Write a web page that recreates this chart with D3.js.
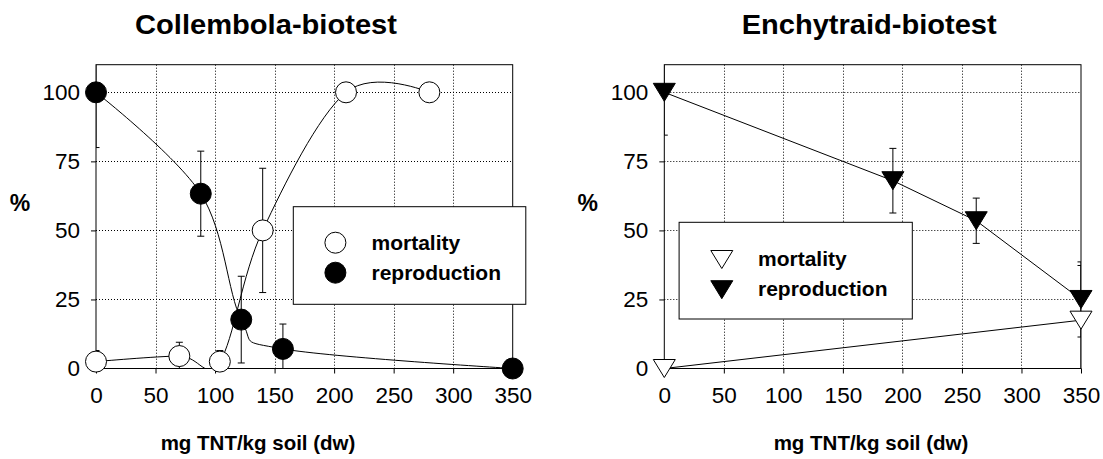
<!DOCTYPE html>
<html><head><meta charset="utf-8">
<script src="https://cdn.jsdelivr.net/npm/d3@7"></script>
<style>
html,body{margin:0;padding:0;background:#fff;}
svg{display:block;font-family:"Liberation Sans",Arial,sans-serif;}
</style></head>
<body>
<svg id="chart" width="1103" height="459"></svg>
<script>
// ---- data ----
const xTicks = [0, 50, 100, 150, 200, 250, 300, 350];
const yTicks = [0, 25, 50, 75, 100];

const colMortX = [0, 70, 104, 140, 210, 280];
const colMortY = [2.5, 4.5, 2.5, 50, 100, 100];
const colMortErr = [4, 5, 4, 22.5, 0, 0];

const colRepX = [0, 88, 122, 157, 350];
const colRepY = [100, 63.3, 17.7, 7.1, 0];
const colRepErr = [20, 15.4, 15.7, 9, 0];

const encMortX = [0, 350];
const encMortY = [0, 17.5];
const encMortErr = [0, 19.8];

const encRepX = [0, 192, 262, 350];
const encRepY = [100, 68, 53.5, 25];
const encRepErr = [15.5, 11.7, 8.2, 13.6];

const titles = ["Collembola-biotest", "Enchytraid-biotest"];
const xLabel = "mg TNT/kg soil (dw)";
const yLabel = "%";
const legendLabels = ["mortality", "reproduction"];

// ---- drawing ----
const svg = d3.select("#chart");
const FONT = '"Liberation Sans",Arial,sans-serif';

function zip(xs, ys, es) { return xs.map((x, i) => ({x, y: ys[i], e: es[i]})); }

const panels = [
  {
    id: "p0", x0: 96, x1: 512.7, title: titles[0], titleX: 266, titleLen: 262, titleY: 34.3,
    labelX: 258, pctX: 20,
    series: [
      {data: zip(colMortX, colMortY, colMortErr), marker: "circle", fill: "#fff", curve: d3.curveCardinal.tension(0)},
      {data: zip(colRepX, colRepY, colRepErr), marker: "circle", fill: "#000", curve: d3.curveCardinal.tension(0)}
    ],
    legend: {x: 293.3, y: 206.7, w: 232.5, h: 97.6, mx: 335.4, tx: 371.5, my: [242.7, 272.7], dy: 7}
  },
  {
    id: "p1", x0: 664.3, x1: 1081, title: titles[1], titleX: 869.2, titleLen: 255, titleY: 33.6,
    labelX: 871, pctX: 587.7,
    series: [
      {data: zip(encMortX, encMortY, encMortErr), marker: "tri", fill: "#fff", curve: d3.curveLinear},
      {data: zip(encRepX, encRepY, encRepErr), marker: "tri", fill: "#000", curve: d3.curveLinear}
    ],
    legend: {x: 679.1, y: 222.3, w: 233.2, h: 96.7, mx: 721.8, tx: 758, my: [259.5, 289.7], dy: 6.5}
  }
];

const yTop = 64.7, yBot = 368.5;
const triPath = "M-11,-9L11,-9L0,9Z";

function drawMarker(g, type, fill, cx, cy) {
  if (type === "circle") {
    g.append("circle").attr("cx", cx).attr("cy", cy).attr("r", 10.5)
      .attr("fill", fill).attr("stroke", "#000").attr("stroke-width", 1);
  } else {
    g.append("path").attr("d", triPath).attr("transform", `translate(${cx},${cy})`)
      .attr("fill", fill).attr("stroke", "#000").attr("stroke-width", 1);
  }
}

panels.forEach(p => {
  const x = d3.scaleLinear().domain([0, 350]).range([p.x0, p.x1]);
  const y = d3.scaleLinear().domain([0, 110]).range([yBot, yTop]);
  const g = svg.append("g");

  // clip
  svg.append("clipPath").attr("id", "clip-" + p.id)
    .append("rect").attr("x", p.x0).attr("y", yTop).attr("width", p.x1 - p.x0).attr("height", yBot - yTop);

  // grid
  const grid = g.append("g").attr("stroke", "#000").attr("stroke-width", 1).attr("stroke-dasharray", "1,2");
  xTicks.filter(t => t > 0 && t < 350).forEach(t => {
    grid.append("line").attr("x1", Math.round(x(t)) + 0.5).attr("x2", Math.round(x(t)) + 0.5)
      .attr("y1", yTop).attr("y2", yBot);
  });
  yTicks.filter(t => t > 0).forEach(t => {
    grid.append("line").attr("y1", Math.round(y(t)) + 0.5).attr("y2", Math.round(y(t)) + 0.5)
      .attr("x1", p.x0).attr("x2", p.x1);
  });

  // frame
  g.append("rect").attr("x", p.x0).attr("y", yTop).attr("width", p.x1 - p.x0).attr("height", yBot - yTop)
    .attr("fill", "none").attr("stroke", "#000").attr("stroke-width", 1);

  // axes
  const ax = g.append("g").attr("transform", `translate(0,${yBot})`)
    .call(d3.axisBottom(x).tickValues(xTicks).tickSize(5).tickSizeOuter(0).tickPadding(14));
  const ay = g.append("g").attr("transform", `translate(${p.x0},0)`)
    .call(d3.axisLeft(y).tickValues(yTicks).tickSize(5).tickSizeOuter(0).tickPadding(11));
  [ax, ay].forEach(a => {
    a.select(".domain").remove();
    a.selectAll("text").attr("font-size", 22.5).attr("font-family", FONT).attr("fill", "#000");
    a.selectAll("line").attr("stroke", "#000");
  });

  // lines
  const line = d3.line().x(d => x(d.x)).y(d => y(d.y));
  const lines = g.append("g").attr("clip-path", `url(#clip-${p.id})`);
  p.series.forEach(s => {
    lines.append("path").attr("d", line.curve(s.curve)(s.data))
      .attr("fill", "none").attr("stroke", "#000").attr("stroke-width", 1);
  });

  // error bars
  const eb = g.append("g").attr("clip-path", `url(#clip-${p.id})`).attr("stroke", "#000").attr("stroke-width", 1);
  p.series.forEach(s => {
    s.data.filter(d => d.e > 0).forEach(d => {
      const cx = x(d.x), yh = y(d.y + d.e), yl = y(d.y - d.e);
      eb.append("line").attr("x1", cx).attr("x2", cx).attr("y1", yh).attr("y2", yl);
      eb.append("line").attr("x1", cx - 3.5).attr("x2", cx + 3.5).attr("y1", yh).attr("y2", yh);
      eb.append("line").attr("x1", cx - 3.5).attr("x2", cx + 3.5).attr("y1", yl).attr("y2", yl);
    });
  });

  // markers
  const mk = g.append("g");
  p.series.forEach(s => {
    s.data.forEach(d => drawMarker(mk, s.marker, s.fill, x(d.x), y(d.y)));
  });

  // legend
  const L = p.legend;
  const lg = g.append("g");
  lg.append("rect").attr("x", L.x).attr("y", L.y).attr("width", L.w).attr("height", L.h)
    .attr("fill", "#fff").attr("stroke", "#000").attr("stroke-width", 1);
  p.series.forEach((s, i) => {
    drawMarker(lg, s.marker, s.fill, L.mx, L.my[i]);
    lg.append("text").attr("x", L.tx).attr("y", L.my[i] + L.dy).text(legendLabels[i])
      .attr("font-size", 21).attr("font-weight", "bold").attr("font-family", FONT);
  });

  // titles and labels
  g.append("text").attr("x", p.titleX).attr("y", p.titleY).attr("text-anchor", "middle")
    .attr("font-size", 27).attr("font-weight", "bold").attr("font-family", FONT)
    .attr("textLength", p.titleLen).attr("lengthAdjust", "spacingAndGlyphs").text(p.title);
  g.append("text").attr("x", p.labelX).attr("y", 450).attr("text-anchor", "middle")
    .attr("font-size", 20.5).attr("font-weight", "bold").attr("font-family", FONT).text(xLabel);
  g.append("text").attr("x", p.pctX).attr("y", 210.7).attr("text-anchor", "middle")
    .attr("font-size", 23).attr("font-weight", "bold").attr("font-family", FONT).text(yLabel);
});
</script>
</body></html>
